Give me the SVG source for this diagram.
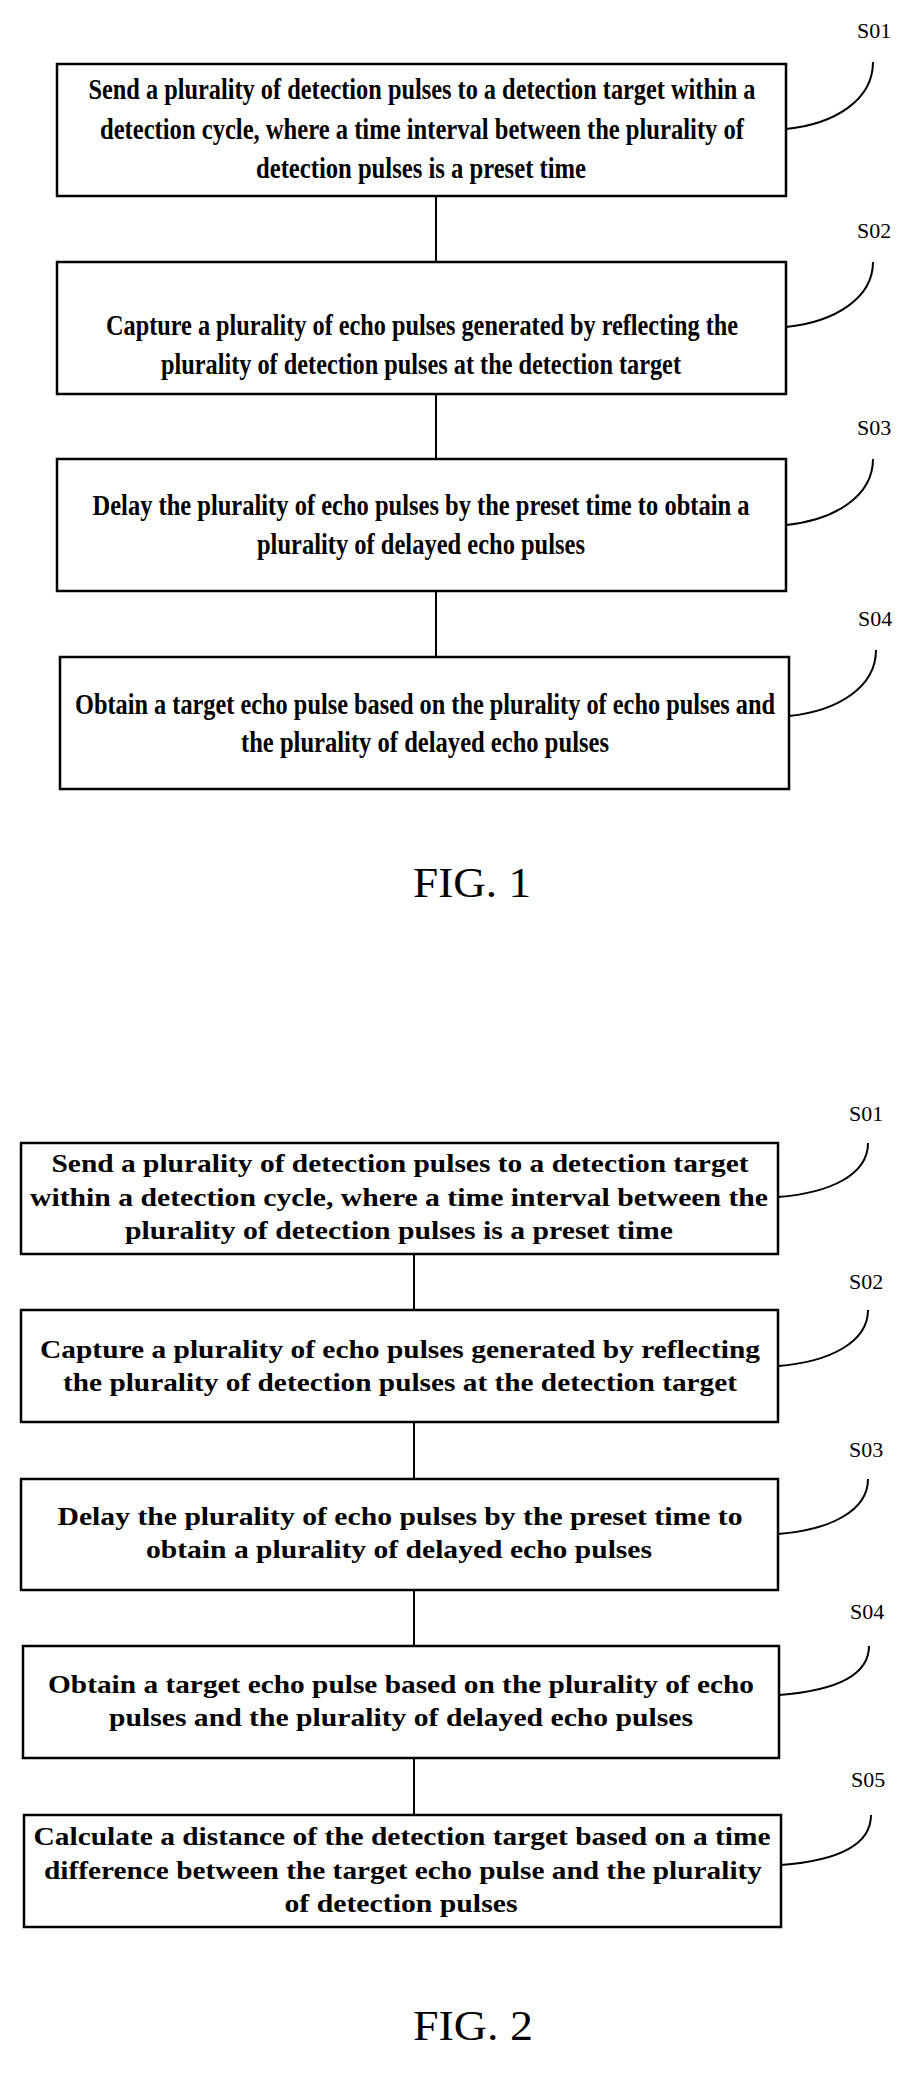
<svg xmlns="http://www.w3.org/2000/svg" width="915" height="2081" viewBox="0 0 915 2081">
<style>
.box{fill:#fff;stroke:#000;stroke-width:2.5}
.ln{fill:none;stroke:#000;stroke-width:2}
.t1{font-family:"Liberation Serif",serif;font-weight:bold;font-size:30px;text-anchor:middle}
.t2{font-family:"Liberation Serif",serif;font-weight:bold;font-size:26px;text-anchor:middle}
.lb{font-family:"Liberation Serif",serif;font-size:22px}
.fig{font-family:"Liberation Serif",serif;font-size:42px;text-anchor:middle}
</style>
<rect width="915" height="2081" fill="#fff"/>
<g id="connectors">
<path class="ln" d="M436,196V262M436,394V459M436,591V657"/>
<path class="ln" d="M786,129C835,124 873,100 873,62"/>
<path class="ln" d="M786,327C835,322 873,298 873,262"/>
<path class="ln" d="M786,525C835,520 873,496 873,459"/>
<path class="ln" d="M789,716C838,711 876,687 876,650"/>
<path class="ln" d="M414,1254V1310M414,1422V1479M414,1590V1646M414,1758V1815"/>
<path class="ln" d="M778,1197C830,1193 868,1175 868,1143"/>
<path class="ln" d="M778,1366C830,1362 868,1342 868,1310"/>
<path class="ln" d="M778,1534C830,1530 868,1511 868,1479"/>
<path class="ln" d="M779,1695C831,1691 869,1678 869,1646"/>
<path class="ln" d="M781,1865C833,1861 871,1847 871,1815"/>
</g>
<g id="f1s01"><rect class="box" x="57" y="64" width="729" height="132"/>
<text class="t1" x="422" y="99" textLength="667" lengthAdjust="spacingAndGlyphs">Send a plurality of detection pulses to a detection target within a</text>
<text class="t1" x="422" y="139" textLength="644" lengthAdjust="spacingAndGlyphs">detection cycle, where a time interval between the plurality of</text>
<text class="t1" x="421" y="178" textLength="330" lengthAdjust="spacingAndGlyphs">detection pulses is a preset time</text>
<text class="lb" x="857" y="38">S01</text></g>
<g id="f1s02"><rect class="box" x="57" y="262" width="729" height="132"/>
<text class="t1" x="422" y="335" textLength="632" lengthAdjust="spacingAndGlyphs">Capture a plurality of echo pulses generated by reflecting the</text>
<text class="t1" x="421" y="374" textLength="520" lengthAdjust="spacingAndGlyphs">plurality of detection pulses at the detection target</text>
<text class="lb" x="857" y="238">S02</text></g>
<g id="f1s03"><rect class="box" x="57" y="459" width="729" height="132"/>
<text class="t1" x="421" y="515" textLength="657" lengthAdjust="spacingAndGlyphs">Delay the plurality of echo pulses by the preset time to obtain a</text>
<text class="t1" x="421" y="554" textLength="328" lengthAdjust="spacingAndGlyphs">plurality of delayed echo pulses</text>
<text class="lb" x="857" y="435">S03</text></g>
<g id="f1s04"><rect class="box" x="60" y="657" width="729" height="132"/>
<text class="t1" x="425" y="714" textLength="700" lengthAdjust="spacingAndGlyphs">Obtain a target echo pulse based on the plurality of echo pulses and</text>
<text class="t1" x="425" y="752" textLength="368" lengthAdjust="spacingAndGlyphs">the plurality of delayed echo pulses</text>
<text class="lb" x="858" y="626">S04</text></g>
<text class="fig" x="472" y="897" textLength="118" lengthAdjust="spacingAndGlyphs">FIG. 1</text>

<g id="f2s01"><rect class="box" x="21" y="1143" width="757" height="111"/>
<text class="t2" x="400" y="1172" textLength="697" lengthAdjust="spacingAndGlyphs">Send a plurality of detection pulses to a detection target</text>
<text class="t2" x="399" y="1206" textLength="738" lengthAdjust="spacingAndGlyphs">within a detection cycle, where a time interval between the</text>
<text class="t2" x="399" y="1239" textLength="548" lengthAdjust="spacingAndGlyphs">plurality of detection pulses is a preset time</text>
<text class="lb" x="849" y="1121">S01</text></g>
<g id="f2s02"><rect class="box" x="21" y="1310" width="757" height="112"/>
<text class="t2" x="400" y="1358" textLength="720" lengthAdjust="spacingAndGlyphs">Capture a plurality of echo pulses generated by reflecting</text>
<text class="t2" x="400" y="1391" textLength="674" lengthAdjust="spacingAndGlyphs">the plurality of detection pulses at the detection target</text>
<text class="lb" x="849" y="1289">S02</text></g>
<g id="f2s03"><rect class="box" x="21" y="1479" width="757" height="111"/>
<text class="t2" x="400" y="1525" textLength="685" lengthAdjust="spacingAndGlyphs">Delay the plurality of echo pulses by the preset time to</text>
<text class="t2" x="399" y="1558" textLength="506" lengthAdjust="spacingAndGlyphs">obtain a plurality of delayed echo pulses</text>
<text class="lb" x="849" y="1457">S03</text></g>
<g id="f2s04"><rect class="box" x="23" y="1646" width="756" height="112"/>
<text class="t2" x="401" y="1693" textLength="706" lengthAdjust="spacingAndGlyphs">Obtain a target echo pulse based on the plurality of echo</text>
<text class="t2" x="401" y="1726" textLength="584" lengthAdjust="spacingAndGlyphs">pulses and the plurality of delayed echo pulses</text>
<text class="lb" x="850" y="1619">S04</text></g>
<g id="f2s05"><rect class="box" x="24" y="1815" width="757" height="112"/>
<text class="t2" x="402" y="1845" textLength="737" lengthAdjust="spacingAndGlyphs">Calculate a distance of the detection target based on a time</text>
<text class="t2" x="403" y="1879" textLength="718" lengthAdjust="spacingAndGlyphs">difference between the target echo pulse and the plurality</text>
<text class="t2" x="401" y="1912" textLength="233" lengthAdjust="spacingAndGlyphs">of detection pulses</text>
<text class="lb" x="851" y="1787">S05</text></g>
<text class="fig" x="473" y="2040" textLength="120" lengthAdjust="spacingAndGlyphs">FIG. 2</text>
</svg>
